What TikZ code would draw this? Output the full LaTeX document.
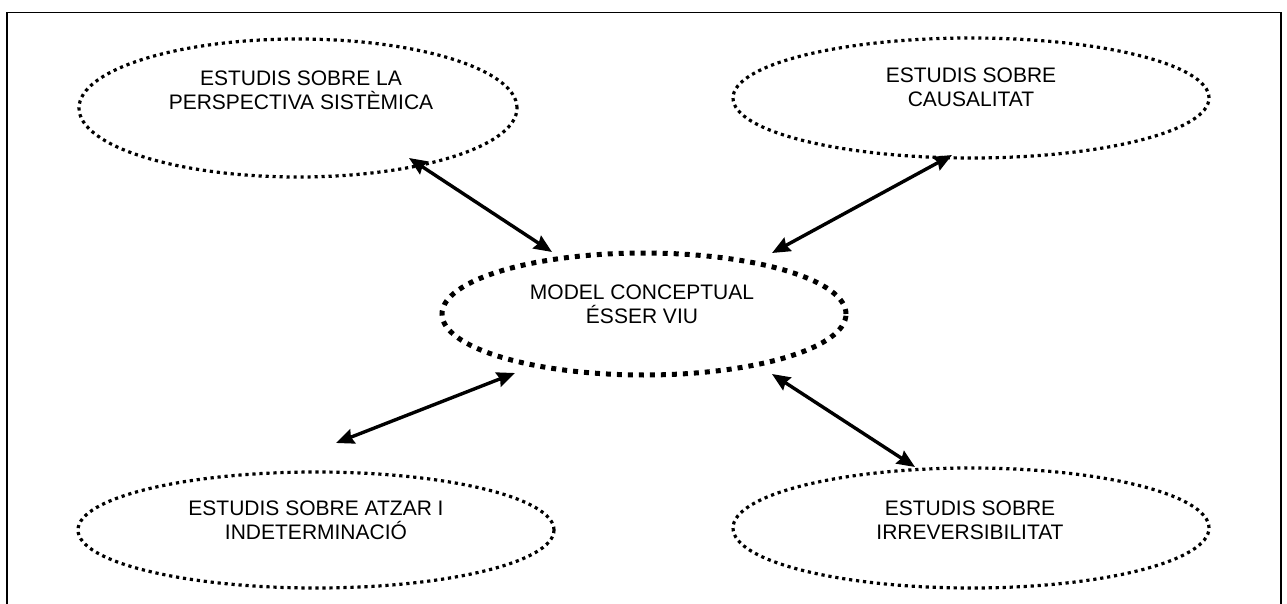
\documentclass[tikz,border=0pt]{standalone}
\usepackage{fontspec}
\setmainfont{Liberation Sans}
\usetikzlibrary{shapes.geometric,arrows.meta}

\begin{document}
\begin{tikzpicture}[x=1pt,y=-1pt,
  bubble/.style={ellipse, draw, inner sep=0pt, line width=3.2pt,
    dash pattern=on 3.2pt off 3.8pt},
  core/.style={ellipse, draw, inner sep=0pt, line width=5pt,
    dash pattern=on 5pt off 6pt},
  caption/.style={anchor=base, align=center, inner sep=0pt,
    font=\fontsize{21}{24}\selectfont},
  link/.style={line width=3.4pt,
    {Stealth[length=18pt,width=15pt,inset=2pt]}-{Stealth[length=18pt,width=15pt,inset=2pt]}}
]
\useasboundingbox (0,0) rectangle (1287,604);
\clip (0,0) rectangle (1287,604);

% outer frame (continues below the page edge)
\draw[line width=1.8pt] (7,12.5) rectangle (1281,640);

% ellipses
\node[bubble, minimum width=438pt, minimum height=138pt] (tl) at (298,108) {};
\node[bubble, minimum width=476pt, minimum height=120pt] (tr) at (971,98) {};
\node[core,   minimum width=404pt, minimum height=122pt] (c)  at (644,314) {};
\node[bubble, minimum width=476pt, minimum height=116pt] (bl) at (316,530) {};
\node[bubble, minimum width=476pt, minimum height=120pt] (br) at (971,528) {};

% captions (anchored at the baseline of the last line)
\node[caption] (tltext) at (301,110) {ESTUDIS SOBRE LA\\PERSPECTIVA SISTÈMICA};
\node[caption] (trtext) at (971,107) {ESTUDIS SOBRE\\CAUSALITAT};
\node[caption] (ctext)  at (642,323) {MODEL CONCEPTUAL\\ÉSSER VIU};
\node[caption] (bltext) at (316,539) {ESTUDIS SOBRE ATZAR I\\INDETERMINACIÓ};
\node[caption] (brtext) at (970,539) {ESTUDIS SOBRE\\IRREVERSIBILITAT};

% arrow end points
\coordinate (tl-s) at (409,158);
\coordinate (c-nw) at (552,252);
\coordinate (tr-s) at (952,155);
\coordinate (c-ne) at (772,253);
\coordinate (bl-n) at (336,443);
\coordinate (c-sw) at (515,373);
\coordinate (c-se) at (772,374);
\coordinate (br-n) at (915,467);

% connectors
\draw[link] (tl-s) -- (c-nw);
\draw[link] (tr-s) -- (c-ne);
\draw[link] (bl-n) -- (c-sw);
\draw[link] (c-se) -- (br-n);
\end{tikzpicture}
\end{document}
